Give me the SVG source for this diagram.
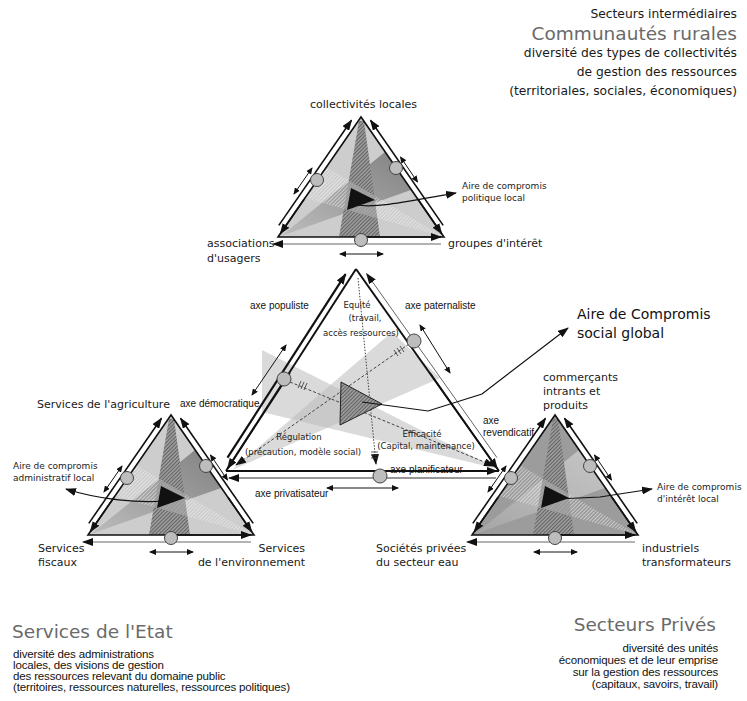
<svg xmlns="http://www.w3.org/2000/svg" width="747" height="701" viewBox="0 0 747 701">
<style>
 .lbl{font-family:"DejaVu Sans",sans-serif;font-size:11px;fill:#1a1a1a}
 .hdr{font-family:"DejaVu Sans",sans-serif;font-size:12.3px;fill:#1a1a1a}
 .ttl{font-family:"DejaVu Sans",sans-serif;font-size:18.5px;fill:#6a6a6a}
 .axe{font-family:"Liberation Sans",Arial,sans-serif;font-size:10px;fill:#111}
 .sm{font-family:"DejaVu Sans",sans-serif;font-size:8.5px;fill:#222}
 .cl{font-family:"DejaVu Sans",sans-serif;font-size:9px;fill:#222}
 .desc{font-family:"Liberation Sans",Arial,sans-serif;font-size:11.5px;letter-spacing:-0.15px;fill:#111}
 .cmp{font-family:"DejaVu Sans",sans-serif;font-size:14px;fill:#111}
 .edge{stroke:#111;stroke-width:1.6;fill:none}
 .ax{stroke:#111;stroke-width:1.6;fill:none;marker-end:url(#ah)}
 .axt{stroke:#666;stroke-width:1;fill:none;marker-end:url(#ah)}
 .dbl{stroke:#111;stroke-width:1;fill:none;marker-start:url(#sa);marker-end:url(#sa)}
 .knob{fill:#bdbdbd;stroke:#444;stroke-width:1}
 .dash{stroke:#444;stroke-width:1;stroke-dasharray:3 2;fill:none;marker-end:url(#ah)}
 .link{stroke:#111;stroke-width:1.2;fill:none;marker-end:url(#ah)}
</style>
<defs>
 <marker id="ah" markerWidth="11" markerHeight="8" refX="10" refY="4" orient="auto" markerUnits="userSpaceOnUse"><path d="M0,0 L11,4 L0,8 z" fill="#111"/></marker>
 <marker id="sa" markerWidth="7" markerHeight="6" refX="6" refY="3" orient="auto-start-reverse" markerUnits="userSpaceOnUse"><path d="M0,0 L7,3 L0,6 z" fill="#111"/></marker>
 <pattern id="hatch" width="2.6" height="2.6" patternUnits="userSpaceOnUse" patternTransform="rotate(45)"><rect width="2.6" height="2.6" fill="#9a9a9a"/><line x1="0" y1="0" x2="0" y2="2.6" stroke="#333" stroke-width="1"/></pattern>
 <pattern id="hatchW" width="2.6" height="2.6" patternUnits="userSpaceOnUse" patternTransform="rotate(45)"><line x1="0" y1="0" x2="0" y2="2.6" stroke="#f4f4f4" stroke-width="1"/></pattern>
 <linearGradient id="gband" x1="1" y1="0" x2="0" y2="1"><stop offset="0" stop-color="#6f6f6f"/><stop offset="1" stop-color="#b8b8b8"/></linearGradient>
 <linearGradient id="gbandL" x1="1" y1="0" x2="0" y2="1"><stop offset="0" stop-color="#d0d0d0"/><stop offset="1" stop-color="#a8a8a8"/></linearGradient>
 <g id="tri">
  <polygon points="-2,4 3,4 19,120 -22,120" fill="url(#hatch)"/>
  <polygon points="-35,50 -56,81 83,120" fill="url(#hatchW)"/>
  <polygon points="0,0 -83,120 83,120" class="edge"/>
  <polygon points="-10,71 -14,93 14,83" fill="#111"/>
  <line x1="-82.2" y1="108.4" x2="-9.5" y2="3.2" class="ax"/>
  <line x1="-56.9" y1="82.2" x2="-80.7" y2="116.7" class="ax"/>
  <line x1="82.2" y1="108.4" x2="9.5" y2="3.2" class="ax"/>
  <line x1="56.9" y1="82.2" x2="80.7" y2="116.7" class="ax"/>
  <line x1="0" y1="120" x2="80" y2="120" class="ax"/>
  <line x1="80" y1="127" x2="-88" y2="127" class="axt"/>
  <circle cx="-44" cy="63" r="6.5" class="knob"/>
  <circle cx="35" cy="51" r="6.5" class="knob"/>
  <circle cx="0" cy="123" r="6.5" class="knob"/>
  <line x1="-67" y1="77" x2="-49" y2="51" class="dbl"/>
  <line x1="39.5" y1="40" x2="56.5" y2="65" class="dbl"/>
  <line x1="-21" y1="137" x2="22" y2="137" class="dbl"/>
 </g>
</defs>
<rect width="747" height="701" fill="#fff"/>

<g id="header-communautes">
 <text x="737" y="18" text-anchor="end" class="hdr">Secteurs intermédiaires</text>
 <text x="737" y="40" text-anchor="end" class="ttl">Communautés rurales</text>
 <text x="737" y="57" text-anchor="end" class="hdr">diversité des types de collectivités</text>
 <text x="737" y="76" text-anchor="end" class="hdr">de gestion des ressources</text>
 <text x="737" y="95" text-anchor="end" class="hdr">(territoriales, sociales, économiques)</text>
</g>

<g id="connectors">
 <polygon points="262,350 498,469 262,412" fill="#bcbcbc" opacity="0.55"/>
 <polygon points="392,332 440,378 232,470" fill="#bcbcbc" opacity="0.55"/>
 <line x1="290" y1="382" x2="494" y2="466" class="dash"/>
 <line x1="409" y1="344" x2="236" y2="465" class="dash"/>
 <line x1="358" y1="278" x2="376" y2="464" class="dash" style="stroke-dasharray:1.5 1.5"/>
 <path d="M298,388 l3,-7 M301,389 l3,-7 M304,390 l3,-7 M398,356 l-4,-6 M401,354 l-4,-6 M404,352 l-4,-6 M371,452 l7,0 M371,455 l7,0 M371,458 l7,0" stroke="#333" stroke-width="0.8"/>
 <line x1="226" y1="471" x2="356" y2="269" stroke="#111" stroke-width="2"/>
 <line x1="227.5" y1="457.7" x2="345.6" y2="274.2" class="ax" style="stroke-width:2.2"/>
 <line x1="290" y1="373" x2="227.6" y2="468.5" class="ax"/>
 <line x1="356" y1="269" x2="499" y2="471" stroke="#111" stroke-width="2"/>
 <line x1="497" y1="457.7" x2="366.7" y2="273.7" class="axt"/>
 <line x1="430" y1="373" x2="497.3" y2="468.6" class="ax"/>
 <line x1="226" y1="471" x2="499" y2="471" stroke="#111" stroke-width="2"/>
 <line x1="380" y1="471" x2="497" y2="471" class="ax"/>
 <line x1="496" y1="478" x2="229" y2="478" class="axt" style="stroke:#333;stroke-width:1.2"/>
 <circle cx="284" cy="379" r="7" class="knob"/>
 <circle cx="414" cy="341" r="7" class="knob"/>
 <circle cx="380" cy="476" r="7" class="knob"/>
 <line x1="252" y1="395" x2="286" y2="345" class="dbl"/>
 <line x1="420" y1="325" x2="450" y2="373" class="dbl"/>
 <line x1="327" y1="488" x2="398" y2="488" class="dbl"/>
 <text x="250" y="309" class="axe">axe populiste</text>
 <text x="405" y="309" class="axe">axe paternaliste</text>
 <text x="180" y="407" class="axe">axe démocratique</text>
 <text x="483" y="424" class="axe">axe</text>
 <text x="483" y="436" class="axe">revendicatif</text>
 <text x="390" y="473" class="axe">axe planificateur</text>
 <text x="255" y="497" class="axe">axe privatisateur</text>
</g>

<g id="node-global">
 <polygon points="341,382 340,425 382,404" fill="url(#hatch)" stroke="#222" stroke-width="1"/>
 <polyline points="362,402 428,411 482,394 568,328" class="link"/>
 <text x="357" y="308" text-anchor="middle" class="sm">Equité</text>
 <text x="365" y="321" text-anchor="middle" class="sm">(travail,</text>
 <text x="361" y="336" text-anchor="middle" class="sm">accès ressources)</text>
 <text x="299" y="440" text-anchor="middle" class="sm">Régulation</text>
 <text x="303" y="455" text-anchor="middle" class="sm">(précaution, modèle social)</text>
 <text x="422" y="437" text-anchor="middle" class="sm">Efficacité</text>
 <text x="426" y="449" text-anchor="middle" class="sm">(Capital, maintenance)</text>
 <text x="577" y="319" class="cmp">Aire de Compromis</text>
 <text x="577" y="338" class="cmp">social global</text>
</g>

<g id="node-communautes">
 <polygon points="361,117 278,237 444,237" fill="#cdcdcd"/>
 <polygon points="385,152 411,190 281,236" fill="url(#gband)" opacity="0.8"/>
 <use href="#tri" transform="translate(361,117)"/>
 <text x="310" y="108" class="lbl">collectivités locales</text>
 <text x="207" y="247" class="lbl">associations</text>
 <text x="207" y="262" class="lbl">d'usagers</text>
 <text x="448" y="247" class="lbl">groupes d'intérêt</text>
 <path d="M357,205 C375,208 400,203 456,193" class="link"/>
 <text x="462" y="189" class="cl">Aire de compromis</text>
 <text x="462" y="201" class="cl">politique local</text>
</g>

<g id="node-etat">
 <polygon points="171,415 88,535 254,535" fill="#cdcdcd"/>
 <polygon points="195,450 221,488 91,534" fill="url(#gband)" opacity="0.8"/>
 <use href="#tri" transform="translate(171,415)"/>
 <text x="37" y="408" class="lbl">Services de l'agriculture</text>
 <text x="38" y="552" class="lbl">Services</text>
 <text x="38" y="566" class="lbl">fiscaux</text>
 <text x="305" y="552" text-anchor="end" class="lbl">Services</text>
 <text x="305" y="566" text-anchor="end" class="lbl">de l'environnement</text>
 <path d="M163,501 C140,503 100,500 66,489" class="link"/>
 <text x="13" y="469" class="cl">Aire de compromis</text>
 <text x="13" y="481" class="cl">administratif local</text>
</g>

<g id="node-prive">
 <polygon points="555,415 472,535 638,535" fill="#9c9c9c"/>
 <polygon points="579,450 605,488 475,534" fill="url(#gbandL)" opacity="0.8"/>
 <use href="#tri" transform="translate(555,415)"/>
 <text x="543" y="381" class="lbl">commerçants</text>
 <text x="543" y="395" class="lbl">intrants et</text>
 <text x="543" y="409" class="lbl">produits</text>
 <text x="376" y="552" class="lbl">Sociétés privées</text>
 <text x="376" y="566" class="lbl">du secteur eau</text>
 <text x="642" y="552" class="lbl">industriels</text>
 <text x="642" y="566" class="lbl">transformateurs</text>
 <polyline points="557,499 600,497 652,489" class="link"/>
 <text x="657" y="490" class="cl">Aire de compromis</text>
 <text x="657" y="502" class="cl">d'intérêt local</text>
</g>

<g id="footer-etat">
 <text x="12" y="638" class="ttl">Services de l'Etat</text>
 <text x="13" y="658" class="desc">diversité des administrations</text>
 <text x="13" y="669" class="desc">locales, des visions de gestion</text>
 <text x="13" y="680" class="desc">des ressources relevant du domaine public</text>
 <text x="13" y="691" class="desc">(territoires, ressources naturelles, ressources politiques)</text>
</g>

<g id="footer-prive">
 <text x="716" y="631" text-anchor="end" class="ttl">Secteurs Privés</text>
 <text x="718" y="652" text-anchor="end" class="desc">diversité des unités</text>
 <text x="718" y="664" text-anchor="end" class="desc">économiques et de leur emprise</text>
 <text x="718" y="676" text-anchor="end" class="desc">sur la gestion des ressources</text>
 <text x="718" y="688" text-anchor="end" class="desc">(capitaux, savoirs, travail)</text>
</g>
</svg>
